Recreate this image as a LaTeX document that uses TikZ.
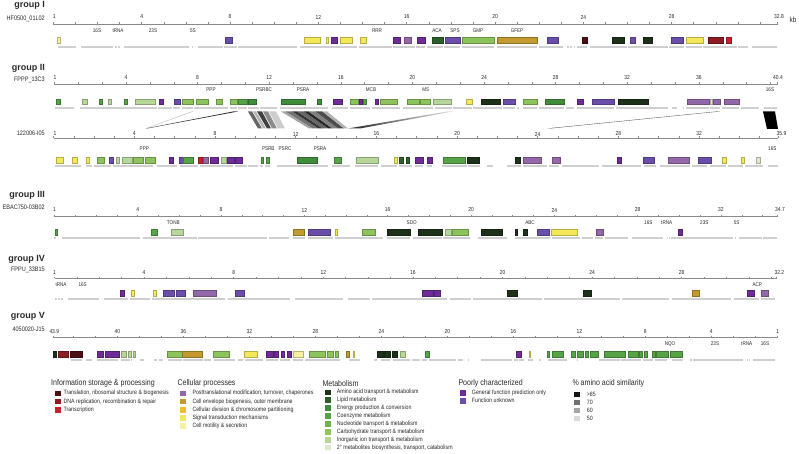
\documentclass[tikz,border=0pt]{standalone}
\usepackage{fontspec}
\setmainfont{Liberation Sans}[FakeStretch=0.85]
\newfontfamily\grpfont{Liberation Sans}
\definecolor{txt}{HTML}{2A2A2A}
\definecolor{rul}{HTML}{8A8A8A}
\definecolor{cBar}{HTML}{CFCFCF}
\definecolor{cTr}{HTML}{4D0F12}
\definecolor{cDNA}{HTML}{8A1C22}
\definecolor{cTrs}{HTML}{C8202C}
\definecolor{cPTM}{HTML}{9468A8}
\definecolor{cCE}{HTML}{C39A30}
\definecolor{cCD}{HTML}{F2BC2A}
\definecolor{cST}{HTML}{F2E85A}
\definecolor{cCM}{HTML}{F6F0A0}
\definecolor{cAA}{HTML}{1D3119}
\definecolor{cLip}{HTML}{2E5E2A}
\definecolor{cEn}{HTML}{3F8C3B}
\definecolor{cCo}{HTML}{56A447}
\definecolor{cNu}{HTML}{6DB24E}
\definecolor{cCa}{HTML}{8DC35C}
\definecolor{cIn}{HTML}{B7D79A}
\definecolor{cSec}{HTML}{DBEAC9}
\definecolor{cGen}{HTML}{6F2C96}
\definecolor{cUnk}{HTML}{6A4EAA}
\definecolor{cSa}{HTML}{151515}
\definecolor{cSb}{HTML}{707070}
\definecolor{cSc}{HTML}{A5A5A5}
\definecolor{cSd}{HTML}{DADADA}
\tikzset{
  numlab/.style={font=\fontsize{5.8}{6}\selectfont, text=txt, inner sep=0pt},
  genelab/.style={font=\fontsize{5.4}{6}\selectfont, text=txt, inner sep=0pt},
  namelab/.style={font=\fontsize{6.5}{7}\selectfont, text=txt, anchor=east, inner sep=0pt},
  grplab/.style={font=\grpfont\bfseries\fontsize{9}{10}\selectfont, text=txt, anchor=east, inner sep=0pt},
  leghead/.style={font=\fontsize{8.3}{9}\selectfont, text=txt, anchor=west, inner sep=0pt},
  legitem/.style={font=\fontsize{6.2}{7}\selectfont, text=txt, anchor=west, inner sep=0pt},
  rulerline/.style={draw=rul, line width=0.5pt},
}
\newcommand{\GeneRow}[2]{\foreach \xa/\xb/\xc in {#2}{\fill[\xc, draw=\xc!75!black, line width=0.25pt] (\xa,#1-2.9) rectangle (\xb,#1+2.9);}}
\newcommand{\GrayRow}[2]{\foreach \xa/\xb in {#2}{\fill[cBar] (\xa,#1-1.1) rectangle (\xb,#1+1.1);}}
\newcommand{\RulerLine}[5]{%
  \draw[rulerline] (#2,#1) -- (#5,#1);
  \foreach \ii in {0,...,#4}{\draw[rulerline] ({#2+\ii*(#3)},#1) -- ++(0,-1.8);}
  \draw[rulerline] (#5,#1) -- ++(0,-1.8);}
\newcommand{\LegItem}[6]{\fill[#4] (#2,#3-2.8) rectangle ++(5.8,5.6); \node[legitem] (#1) at (#5,#3) {#6};}
\begin{document}
\begin{tikzpicture}[x=1pt,y=-1pt]
\useasboundingbox (0,0) rectangle (799,454);
\fill[white] (0,0) rectangle (799,454);

% ---------------- group I
\node[grplab] (g1) at (45,5.5) {group I};
\node[namelab] (n1) at (45,18.5) {HF0500\_01L02};
\RulerLine{24}{53.4}{22.08}{32}{777.6}
\node[numlab] (r1s) at (54.3,17) {1};
\foreach \k in {4,8,...,28}{\node[numlab] (r1-\k) at ({53.4+\k*22.08},17) {\k};}
\node[numlab] (r1e) at (779,17) {32.8};
\node[font=\fontsize{7.5}{8}\selectfont, text=txt, inner sep=0pt] (kb) at (793,19.5) {kb};
\foreach \xx/\lab [count=\n] in {97/16S,118/tRNA,153/23S,193/5S,377/RRR,437/ACA,455/SPS,478/GMP,517/GFEP}
  {\node[genelab] (l1-\n) at (\xx,31) {\lab};}
\GeneRow{40.5}{56.7/60/cCM,225/232/cUnk,304.3/320/cST,325.7/328.3/cST,331/337.3/cGen,340/352/cST,360/366/cST,393.3/400/cGen,404/411.3/cPTM,416.7/425/cGen,431.7/443.3/cLip,445/460/cUnk,462.3/494.3/cCa,496.7/537.3/cCE,546.7/557.7/cUnk,581.7/586.7/cTr,612.3/624/cAA,630/635/cUnk,642.7/651.7/cAA,670.7/683.3/cUnk,686/702.7/cST,707.7/723.3/cDNA,725.7/730.7/cTrs}
\GrayRow{46.7}{58.3/76,80.7/112.7,115/116.5,118/120,124/189.3,192/193.2,198.3/222.7,224/236.7,238.3/297.3,300/356.7,359/391.7,393.3/415,416/425,426.7/442.7,444.3/460,461.7/494.3,496.7/537.3,539.3/563.3,566.7/568.5,570/572,573.5/575,576.7/586.7,590/626.7,628.3/668.3,669.3/684,685.7/701.7,703.3/736.7,738.3/748.3,751.7/776.7}

% ---------------- group II : FPPP_13C3
\node[grplab] (g2) at (45,68) {group II};
\node[namelab] (n2) at (45,79.5) {FPPP\_13C3};
\RulerLine{84}{54.4}{23.87}{30}{777.6}
\node[numlab] (r2s) at (55,77.7) {1};
\foreach \k in {4,8,...,36}{\node[numlab] (r2-\k) at ({54.4+\k*17.9},77.7) {\k};}
\node[numlab] (r2e) at (778,77.7) {40.4};
\foreach \xx/\lab [count=\n] in {211/PPP,264/PSRBC,303/PSRA,371/MCB,425.7/MS,770/16S}
  {\node[genelab] (l2-\n) at (\xx,90) {\lab};}
\GeneRow{101.7}{56/60/cCo,82.3/87.3/cIn,99/101.7/cCo,107.7/111/cIn,124/126.7/cCo,135/155/cIn,159.3/162.7/cGen,174.3/180/cUnk,181.7/193.3/cCa,196/207.7/cCa,216/221.7/cCa,230/237.3/cCa,238/246.7/cCo,248.3/256/cEn,281/305/cEn,317.3/321/cEn,333.3/341.7/cGen,350/358.3/cCa,359.3/362.3/cGen,363.3/366/cCo,375/378.3/cGen,380/396.7/cCa,406.7/419.3/cCa,420/430/cCa,433.3/450.7/cIn,465.7/471.7/cST,480.7/500/cAA,502.7/515/cUnk,523.3/536.7/cCa,545/564/cEn,576.7/583.3/cGen,591.7/614/cUnk,618.3/647.7/cAA,686.7/709/cPTM,710/712.3/cSec,713.3/720/cPTM,724.3/739/cPTM}
\GrayRow{108.3}{55/74,80/156.7,157.7/171.7,173.3/180,181.7/192.7,194/228.3,230/237.3,238.3/246.7,248.3/258.5,260/276.7,280/328.3,331.7/348.3,350/370,371.7/400,403.3/433.3,435/451.7,453.3/471.7,473.3/501.7,502.7/515,517.3/519.3,523.3/536.7,539.3/564,565.7/574,577.3/614,616/668.3,671.7/676.7,682.7/684.3,686/709,710/720,721.7/739,741/759.3,764.3/777.3}

% ---------------- synteny between the two group II fosmids
\fill[black!35] (192,111.5) -- (193,111.5) -- (146,128.5) -- (145.5,128.5) -- cycle;
\fill[black!80] (233,111.5) -- (238,111.5) -- (147,128.5) -- (145.5,128.5) -- cycle;
\fill[black!60] (248,111.5) -- (252,111.5) -- (262,128.5) -- (258,128.5) -- cycle;
\fill[black!30] (253,111.5) -- (256,111.5) -- (266,128.5) -- (263,128.5) -- cycle;
\fill[black!75] (257,111.5) -- (262,111.5) -- (271,128.5) -- (267,128.5) -- cycle;
\fill[black!45] (263,111.5) -- (268,111.5) -- (277,128.5) -- (272,128.5) -- cycle;
\fill[black!20] (269,111.5) -- (276,111.5) -- (285,128.5) -- (278,128.5) -- cycle;
\foreach \ta/\tb/\ba/\bb/\gg in {281/285.6/309/312.9/35,285.6/292.5/312.9/318.75/55,292.5/297.1/318.75/322.65/80,297.1/304/322.65/328.5/60,304/308.6/328.5/332.4/85,308.6/315.5/332.4/338.25/50,315.5/322.4/338.25/344.1/70,322.4/327/344.1/348/30}
  {\fill[black!\gg] (\ta,111.5) -- (\tb,111.5) -- (\bb,128.5) -- (\ba,128.5) -- cycle;}
\shade[left color=black!85, right color=black!10] (348,128.5) -- (360,128.5) -- (453,111.5) -- (447,111.5) -- cycle;
\shade[left color=black!80, right color=black!60] (547,128.5) -- (550,128.5) -- (720,111.5) -- (716,111.5) -- cycle;
\fill[black] (763,111.5) -- (775,111.5) -- (778,129) -- (767,129) -- cycle;

% ---------------- group II : 122006-I05
\node[namelab] (n3) at (45,133.3) {122006-I05};
\RulerLine{138.3}{53.6}{20.17}{35}{777.8}
\node[numlab] (r3s) at (55,134) {1};
\foreach \k in {4,8,...,32}{\node[numlab] (r3-\k) at ({53.6+\k*20.17},134) {\k};}
\node[numlab] (r3e) at (781.5,134) {35.9};
\foreach \xx/\lab [count=\n] in {144.3/PPP,268.3/PSRB,285/PSRC,320/PSRA,772.3/16S}
  {\node[genelab] (l3-\n) at (\xx,149) {\lab};}
\GeneRow{160}{56/63.3/cST,71.7/76.7/cST,86/89.3/cST,97.3/104.3/cCa,109.3/113.3/cUnk,115.7/119.3/cIn,122.3/132.3/cIn,133.3/143.3/cCa,145/155/cCa,169.3/172.7/cGen,179.3/182.7/cUnk,183.3/193.3/cCo,198.3/201.7/cTrs,203.3/208.3/cPTM,210/218.3/cGen,220.7/226/cIn,226.7/234/cGen,235/241.7/cGen,260.7/262.7/cCo,266/269.3/cCo,297.3/317.3/cEn,334.3/341/cCo,356/378.3/cIn,394.3/397.3/cST,399.3/403.3/cLip,406/409.3/cLip,415/423.3/cGen,426.7/431.7/cGen,442.7/465/cCo,466.7/479/cAA,515/520/cAA,523.3/541/cPTM,552.3/560/cPTM,617.3/620.7/cGen,642.7/654/cUnk,667.7/689/cPTM,697.7/711/cUnk,721.7/725.7/cST,740.7/744/cST,755.7/760/cSec}
\GrayRow{165.7}{55/81,86/91.7,94/111,113.3/153.3,156.7/176.7,180/198.3,200/233.3,235/246.7,248.3/258,260/262.7,265/270,276.7/328.3,331.7/350,355/378.3,380.7/397.3,399.3/411.7,415/423.3,426.7/431.7,441.7/466.7,468.3/480,486.7/493.3,506.7/520.7,523.3/546.7,549.3/559.3,561.7/599.3,601.7/640.7,644/656,660/690,691.7/706.7,710/726,728.3/743.3,745/763.3,768.3/778.3}

% ---------------- group III
\node[grplab] (g3) at (45,195.5) {group III};
\node[namelab] (n4) at (45,207.7) {EBAC750-03B02};
\RulerLine{216.7}{54.4}{20.83}{34}{777.2}
\node[numlab] (r4s) at (54.5,210) {1};
\foreach \k in {4,8,...,32}{\node[numlab] (r4-\k) at ({54.4+\k*20.83},210) {\k};}
\node[numlab] (r4e) at (780,210) {34.7};
\foreach \xx/\lab [count=\n] in {173.3/TONB,411.7/SDO,530/ABC,648.3/16S,666.7/tRNA,704.3/23S,736.7/5S}
  {\node[genelab] (l4-\n) at (\xx,223) {\lab};}
\GeneRow{232.3}{55/57.3/cCo,151/156.7/cCo,171/182.7/cIn,293.3/304.3/cCE,308.3/330/cUnk,335/337.3/cST,361.7/375/cCa,386.7/410/cAA,418.3/442.3/cAA,445/450.7/cIn,452.3/468.3/cCa,480.7/502.3/cAA,515/517.3/cAA,522.7/527.3/cAA,537.3/549/cUnk,551/577.3/cST,596/603.3/cPTM,678.3/681.7/cGen}
\GrayRow{238.3}{54.3/56,61.7/140,142.7/196.7,198.3/266.7,268.7/289.3,293.3/305,308.3/333.3,335/383.3,386.7/410,413.3/441.7,443.3/451.7,452.3/470,478.3/507.3,515/536.7,537.3/550,551.7/580,581.7/593.3,595/603.3,605/628.3,631.7/663.3,666.7/667.7,668.5/669.5,671/733.3,734.5/735.5,739.3/761.7,763.3/776.7}

% ---------------- group IV
\node[grplab] (g4) at (45,259) {group IV};
\node[namelab] (n5) at (45,270) {FPPU\_33B15};
\RulerLine{278.3}{54.5}{22.4}{32}{776.7}
\node[numlab] (r5s) at (54.5,272.3) {1};
\foreach \k in {4,8,...,28}{\node[numlab] (r5-\k) at ({54.5+\k*22.4},272.3) {\k};}
\node[numlab] (r5e) at (779.3,272.3) {32.2};
\foreach \xx/\lab [count=\n] in {61/tRNA,82.7/16S,757.3/ACP}
  {\node[genelab] (l5-\n) at (\xx,285) {\lab};}
\GeneRow{293.3}{120/124/cGen,130.7/134/cST,153.3/156/cST,162.7/174/cUnk,176/185/cUnk,192.7/216/cPTM,235/244.3/cUnk,421.7/433.3/cGen,434.3/440/cGen,507.3/517.3/cAA,583.3/591/cAA,691.7/699/cCE,747.3/754/cGen,760.7/768.3/cPTM}
\GrayRow{299.3}{55/56.5,58/59.5,61/63,67.7/99.3,104.3/127.7,130/150,152.3/225,227.7/290,295/343.3,348.3/370,371.7/446.7,450/471,473.3/541.7,544/620,622.3/669.3,671.7/731,734.3/759.3,760.7/775}

% ---------------- group V (reversed scale)
\node[grplab] (g5) at (45,316.7) {group V};
\node[namelab] (n6) at (45,329) {4050020-J15};
\RulerLine{337.7}{777.3}{-22}{32}{53}
\node[numlab] (r6s) at (54.3,331.7) {43.9};
\foreach \k in {4,8,...,40}{\node[numlab] (r6-\k) at ({777.3-\k*16.5},331.7) {\k};}
\node[numlab] (r6e) at (777.7,331.7) {1};
\foreach \xx/\lab [count=\n] in {670/NQO,715/23S,746.7/tRNA,765/16S}
  {\node[genelab] (l6-\n) at (\xx,344) {\lab};}
\GeneRow{354}{53.3/56/cAA,58.3/68.3/cDNA,70/81.7/cTr,97.3/103.3/cGen,105/119/cGen,120.7/126/cIn,128.3/130.7/cIn,132.7/135/cIn,167.3/182.3/cCa,182.3/201.7/cCE,213.3/229.3/cCa,244/257.3/cST,265.7/272.7/cGen,274/278.3/cGen,280.7/284/cGen,287.3/290.7/cGen,293.3/303.3/cCM,309.3/325/cCa,326.7/333.3/cCa,335/338.3/cCa,346/349.3/cCE,352.7/354.3/cST,376.7/382.7/cAA,384/390/cAA,391.7/396.7/cAA,400/405/cIn,425/429.3/cCo,516/520.7/cGen,529/530.3/cST,546.7/548.7/cCo,551.7/562.7/cCo,570.7/575/cCo,576.7/583.3/cCo,585/588.3/cCo,590/598.3/cCo,604/625/cCo,628.3/638.3/cCo,639.3/641.7/cCo,644/646.7/cCo,652.3/655/cCo,656/668.3/cCo,670/681.7/cCo}
\GrayRow{360}{71/81.7,86/91.7,96.7/118.3,120.7/130,131/132,140/144,154/156.7,159.3/163.3,168.3/181.7,183.3/202.7,204/210.7,214/235,238.3/242.7,245/263.3,266/278.3,280/290,293.3/303.3,305/340,349.3/360,374.3/377.3,380.7/390,392.7/410,411.7/420,421.7/427.3,429/456,458.3/463.3,467.7/469.3,480.7/511.7,514/518.3,519.3/524,528.3/533.3,539.3/540.7,548.3/566.7,576.7/578.3,599.3/620,620.7/640.7,642.7/653.3,655/666.7,671.7/682.7,690/691.7,693.3/743.3,746.7/747.7,748.7/750,752.7/775}

% ---------------- legend
\node[leghead] (h1) at (51,383.3) {Information storage \& processing};
\LegItem{i1}{55}{393.3}{cTr}{63.3}{Translation, ribosomal structure \& biogenesis}
\LegItem{i2}{55}{401.5}{cDNA}{63.3}{DNA replication, recombination \& repair}
\LegItem{i3}{55}{409.7}{cTrs}{63.3}{Transcription}

\node[leghead] (h2) at (177.3,383.3) {Cellular processes};
\LegItem{c1}{180}{393.3}{cPTM}{192.3}{Posttranslational modification, turnover, chaperones}
\LegItem{c2}{180}{401.5}{cCE}{192.3}{Cell envelope biogenesis, outer membrane}
\LegItem{c3}{180}{409.7}{cCD}{192.3}{Cellular division \& chromosome partitioning}
\LegItem{c4}{180}{417.7}{cST}{192.3}{Signal transduction mechanisms}
\LegItem{c5}{180}{425.7}{cCM}{192.3}{Cell motility \& secretion}

\node[leghead] (h3) at (322.3,383.3) {Metabolism};
\LegItem{m1}{325}{392.3}{cAA}{336.7}{Amino acid transport \& metabolism}
\LegItem{m2}{325}{400.2}{cLip}{336.7}{Lipid metabolism}
\LegItem{m3}{325}{408.1}{cEn}{336.7}{Energy production \& conversion}
\LegItem{m4}{325}{416}{cCo}{336.7}{Coenzyme metabolism}
\LegItem{m5}{325}{423.9}{cNu}{336.7}{Nucleotide transport \& metabolism}
\LegItem{m6}{325}{431.8}{cCa}{336.7}{Carbohydrate transport \& metabolism}
\LegItem{m7}{325}{439.7}{cIn}{336.7}{Inorganic ion transport \& metabolism}
\LegItem{m8}{325}{447.6}{cSec}{336.7}{2° metabolites biosynthesis, transport, catabolism}

\node[leghead] (h4) at (458.3,383.3) {Poorly characterized};
\LegItem{p1}{460}{392.7}{cGen}{471.7}{General function prediction only}
\LegItem{p2}{460}{400.7}{cUnk}{471.7}{Function unknown}

\node[leghead] (h5) at (572.3,383.3) {\% amino acid similarity};
\LegItem{s1}{574}{394.3}{cSa}{586.7}{>85}
\LegItem{s2}{574}{402.3}{cSb}{586.7}{70}
\LegItem{s3}{574}{410.3}{cSc}{586.7}{60}
\LegItem{s4}{574}{418.3}{cSd}{586.7}{50}
\end{tikzpicture}
\end{document}
